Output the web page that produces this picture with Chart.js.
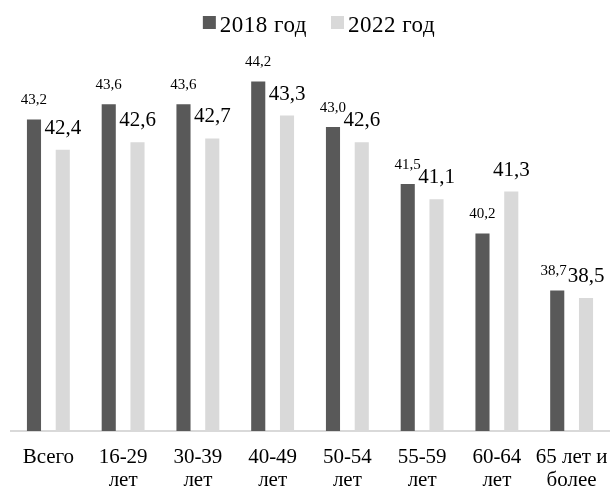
<!DOCTYPE html>
<html>
<head>
<meta charset="utf-8">
<script src="https://cdn.jsdelivr.net/npm/chart.js@4/dist/chart.umd.min.js"></script>
<style>
  html, body { margin: 0; padding: 0; background: #fff; }
  #wrap { width: 611px; height: 490px; position: relative; }
</style>
</head>
<body>
<div id="wrap"><canvas id="chart"></canvas></div>
<script>
const categories = [['Всего'], ['16-29', 'лет'], ['30-39', 'лет'], ['40-49', 'лет'], ['50-54', 'лет'], ['55-59', 'лет'], ['60-64', 'лет'], ['65 лет и', 'более']];
const series2018 = [43.2, 43.6, 43.6, 44.2, 43.0, 41.5, 40.2, 38.7];
const series2022 = [42.4, 42.6, 42.7, 43.3, 42.6, 41.1, 41.3, 38.5];
const seriesNames = ['2018 год', '2022 год'];
const seriesColors = ['#595959', '#d9d9d9'];

const FONT = '"Liberation Serif", "Times New Roman", serif';

// value labels above bars: small for 2018, larger for 2022
const valueLabels = {
    id: 'valueLabels',
    afterDatasetsDraw(chart) {
        const ctx = chart.ctx;
        const sizes = [15, 21];
        const gaps = [15, 16];
        const fmt = v => v.toFixed(1).replace('.', ',');
        ctx.save();
        ctx.fillStyle = '#000';
        ctx.textBaseline = 'alphabetic';
        ctx.textAlign = 'center';
        const dark = chart.getDatasetMeta(0).data;
        const light = chart.getDatasetMeta(1).data;
        dark.forEach((bar, j) => {
            const lb = light[j];
            const t0 = fmt(chart.data.datasets[0].data[j]);
            const t1 = fmt(chart.data.datasets[1].data[j]);
            ctx.font = sizes[1] + 'px ' + FONT;
            const w1 = ctx.measureText(t1).width;
            const y1 = lb.y - gaps[1];
            ctx.fillText(t1, lb.x, y1);
            ctx.font = sizes[0] + 'px ' + FONT;
            const w0 = ctx.measureText(t0).width;
            const y0 = bar.y - gaps[0];
            let x0 = bar.x;
            // push the small label left if it runs into the big one
            const overlapX = (x0 + w0 / 2 + 1) - (lb.x - w1 / 2);
            const overlapY = y0 > y1 - sizes[1] * 0.66 && y0 - sizes[0] * 0.66 < y1;
            if (overlapX > 0 && overlapY) x0 -= overlapX;
            ctx.fillText(t0, x0, y0);
        });
        ctx.restore();
    }
};

// legend drawn by hand so the box/text spacing matches
const LEGEND_CX = 319;
const legendRow = {
    id: 'legendRow',
    afterDraw(chart) {
        const ctx = chart.ctx;
        const box = 13, gap = 4, itemGap = 24, size = 23;
        ctx.save();
        ctx.font = size + 'px ' + FONT;
        ctx.letterSpacing = '0.5px';
        const widths = seriesNames.map(n => ctx.measureText(n).width);
        const total = widths.reduce((a, w) => a + box + gap + w, 0) + itemGap * (seriesNames.length - 1);
        let x = LEGEND_CX - total / 2;
        seriesNames.forEach((name, i) => {
            ctx.fillStyle = seriesColors[i];
            ctx.fillRect(x, 16, box, box);
            ctx.fillStyle = '#000';
            ctx.textBaseline = 'alphabetic';
            ctx.fillText(name, x + box + gap, 31.5);
            x += box + gap + widths[i] + itemGap;
        });
        ctx.restore();
    }
};

new Chart(document.getElementById('chart'), {
    type: 'bar',
    data: {
        labels: categories,
        datasets: [
            { label: seriesNames[0], data: series2018, backgroundColor: seriesColors[0] },
            { label: seriesNames[1], data: series2022, backgroundColor: seriesColors[1] }
        ]
    },
    options: {
        responsive: true,
        maintainAspectRatio: false,
        animation: false,
        categoryPercentage: 0.77,
        barPercentage: 0.49,
        layout: { padding: { left: 11, right: 2, top: 51, bottom: 0 } },
        plugins: {
            legend: { display: false },
            tooltip: { enabled: false }
        },
        scales: {
            x: {
                grid: { display: false, drawTicks: false },
                border: { color: '#d9d9d9', width: 2 },
                ticks: { color: '#000', font: { family: FONT, size: 21, lineHeight: 1.1 }, padding: 15, maxRotation: 0, autoSkip: false },
                afterFit(scale) {
                    scale.height = 59;
                    scale.paddingLeft = 0;
                    scale.paddingRight = 0;
                }
            },
            y: {
                display: false,
                min: 35,
                max: 45
            }
        }
    },
    plugins: [valueLabels, legendRow]
});
</script>
</body>
</html>
